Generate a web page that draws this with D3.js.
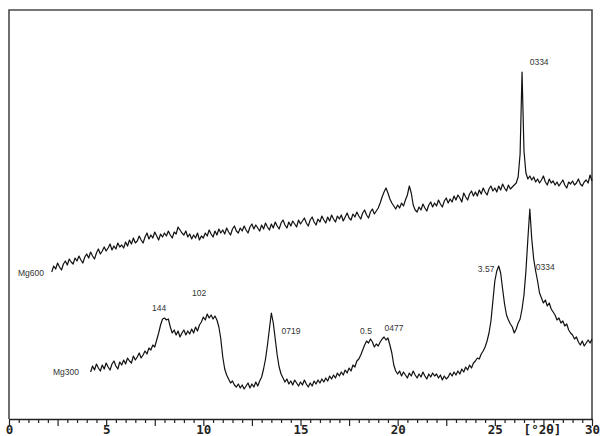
<!DOCTYPE html>
<html><head><meta charset="utf-8">
<script src="https://cdn.jsdelivr.net/npm/d3@7"></script>
<style>html,body{margin:0;padding:0;background:#fff;}svg{display:block;}</style>
</head><body>
<svg id="chart" width="600" height="436"></svg>
<script>
// 2θ sampling of each pattern (start, step in degrees)
const mg600Start = 2.2, mg300Start = 4.2, stepDeg = 0.1;
// intensities (arbitrary counts)
const mg600Counts = [147,153,150,156,152,149,155,158,
  154,160,157,155,161,158,163,159,156,162,
  165,161,167,163,160,166,170,165,168,172,
  168,171,175,169,173,170,176,172,174,171,
  177,173,179,175,181,176,178,183,179,176,
  182,186,180,184,181,187,183,179,185,182,
  186,183,188,184,181,187,185,192,189,186,
  184,188,182,185,180,184,181,186,179,183,
  181,186,183,189,185,182,188,184,190,186,
  189,185,191,187,184,190,193,188,186,191,
  188,193,189,186,192,195,190,194,191,188,
  194,190,196,192,189,195,191,197,193,190,
  196,199,194,191,197,193,198,195,192,199,
  195,198,201,196,193,199,202,197,194,200,
  197,203,199,196,202,198,204,200,197,203,
  200,204,198,202,206,201,199,205,202,207,
  203,200,206,209,204,201,207,210,205,208,
  211,216,222,227,231,226,220,216,213,210,
  214,211,216,213,219,224,233,226,214,209,
  207,212,209,215,211,208,214,217,212,216,
  213,219,215,212,218,221,216,220,217,223,
  219,224,221,217,226,222,219,225,228,223,
  227,223,229,225,231,227,224,230,233,228,
  231,227,233,229,235,231,228,234,230,232,
  234,236,242,265,347,268,246,240,243,239,
  242,237,240,236,239,243,237,234,240,236,
  238,234,237,233,236,239,234,231,237,235,
  238,234,236,240,235,233,237,239,236,244,
  238];
const mg300Counts = [47,53,49,55,51,48,54,50,
  56,52,49,55,58,53,50,57,54,59,
  55,61,58,56,63,59,62,66,61,64,
  68,65,71,69,74,72,79,86,94,100,
  101,99,100,92,86,89,84,88,82,86,
  89,84,88,85,90,86,92,88,94,97,
  102,99,105,101,104,100,103,99,92,80,
  62,50,44,40,36,38,34,32,35,31,
  34,30,33,36,31,35,32,37,33,38,
  42,50,60,74,90,106,96,80,64,52,
  45,41,37,40,35,38,34,39,36,33,
  37,34,39,35,32,36,33,38,35,39,
  36,40,37,41,38,43,40,44,41,46,
  43,47,44,49,46,51,48,54,52,58,
  60,64,69,74,78,76,80,77,72,75,
  73,77,80,82,79,81,74,66,54,48,
  45,48,43,47,44,41,46,43,48,44,
  41,45,42,47,43,40,45,42,46,43,
  45,41,44,39,43,40,42,46,43,47,
  44,48,45,50,47,52,49,54,51,56,
  58,61,60,65,68,72,78,86,98,118,
  138,148,153,146,130,115,104,99,95,92,
  86,90,96,100,110,124,148,180,210,180,
  160,148,138,126,121,116,119,113,116,110,
  107,104,99,101,96,98,93,95,89,86,
  84,80,82,77,74,78,73,76,79,76,
  80];
const seriesNames = ["Mg600","Mg300"];
const seriesLabelPos = [[0.46,143],[2.26,44]];
const peakLabels = ["0334","144","102","0719","0.5","0477","3.57","0334"];
const peakLabelPos = [[27.28,354],[7.72,108],[9.78,123],[14.51,85],[18.37,85],[19.81,88],[24.55,147],[27.59,149]];
const xTickLabels = ["0","5","10","15","20","25","30"];
const axisUnit = "[°2θ]";

const svg = d3.select("#chart");
const x = d3.scaleLinear().domain([0,30]).range([9,592]);
const y = d3.scaleLinear().domain([0,409]).range([419,10]);

// frame
svg.append("path")
  .attr("d", `M${x(0)},${y(0)}V${y(409)}H${x(30)}V${y(0)}`)
  .attr("fill","none").attr("stroke","#4a4a4a").attr("stroke-width",1.6);

// axis
const tickVals = d3.range(0,30.001,0.5);
const axis = d3.axisBottom(x).tickValues(tickVals).tickSizeOuter(0)
  .tickFormat(d => (Math.abs(d % 5) < 1e-6) ? xTickLabels[Math.round(d/5)] : "");
const g = svg.append("g").attr("transform",`translate(0,${y(0)})`).call(axis);
g.select(".domain").attr("stroke","#222").attr("stroke-width",1.6);
g.selectAll(".tick line").attr("stroke","#222").attr("stroke-width",1.2)
  .attr("y2", d => (Math.abs(d % 2.5) < 1e-6) ? 7 : 4);
g.selectAll(".tick text").attr("y",15).attr("dy",null)
  .style("font-family","'DejaVu Sans Mono',monospace").style("font-weight","bold")
  .style("font-size","12.5px").attr("fill","#222");
svg.append("text").attr("x",x(27.45)).attr("y",y(0)+15)
  .attr("text-anchor","middle")
  .style("font-family","'DejaVu Sans Mono',monospace").style("font-weight","bold")
  .style("font-size","12.5px").attr("fill","#222").text(axisUnit);

// patterns
const line = d3.line().x(d=>x(d[0])).y(d=>y(d[1]));
const mg600 = mg600Counts.map((c,i)=>[mg600Start+i*stepDeg,c]);
const mg300 = mg300Counts.map((c,i)=>[mg300Start+i*stepDeg,c]);
[mg600,mg300].forEach(s=>{
  svg.append("path").datum(s).attr("d",line).attr("fill","none")
    .attr("stroke","#111").attr("stroke-width",1.2).attr("stroke-linejoin","round");
});

// series labels
seriesNames.forEach((n,i)=>{
  svg.append("text").attr("x",x(seriesLabelPos[i][0])).attr("y",y(seriesLabelPos[i][1]))
    .style("font-family","'Liberation Sans',Arial,sans-serif").style("font-size","8.5px")
    .attr("fill","#333").text(n);
});
// peak labels
peakLabels.forEach((t,i)=>{
  svg.append("text").attr("x",x(peakLabelPos[i][0])).attr("y",y(peakLabelPos[i][1]))
    .attr("text-anchor","middle")
    .style("font-family","'Liberation Sans',Arial,sans-serif").style("font-size","8.5px")
    .attr("fill","#333").text(t);
});
</script>
</body></html>
